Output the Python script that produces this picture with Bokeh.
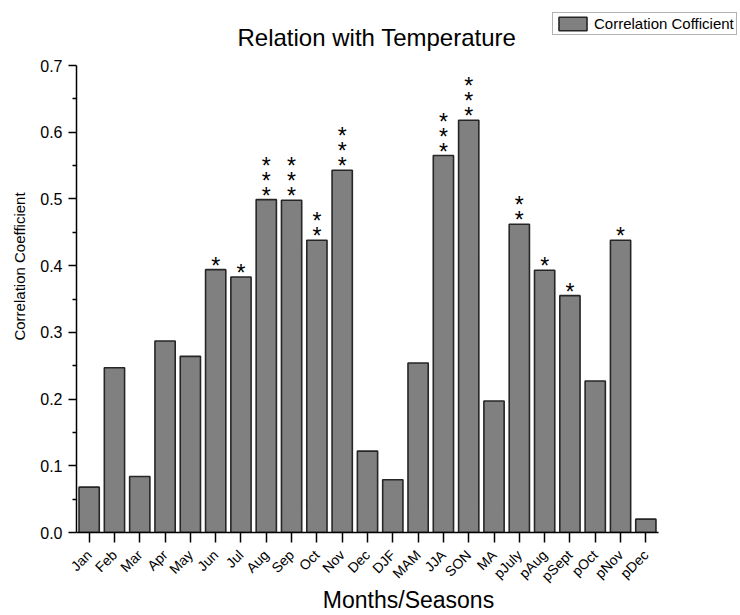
import math
from bokeh.plotting import figure
from bokeh.models import (Range1d, FixedTicker, PrintfTickFormatter, ColumnDataSource,
                          Label)
from bokeh.core.properties import value
from bokeh.embed import file_html
from bokeh.resources import INLINE

# ---- data ----
categories = ["Jan", "Feb", "Mar", "Apr", "May", "Jun", "Jul", "Aug", "Sep", "Oct",
              "Nov", "Dec", "DJF", "MAM", "JJA", "SON", "MA", "pJuly", "pAug",
              "pSept", "pOct", "pNov", "pDec"]
correlation = [0.068, 0.247, 0.084, 0.287, 0.264, 0.394, 0.383, 0.499, 0.498, 0.438,
               0.543, 0.122, 0.079, 0.254, 0.565, 0.618, 0.197, 0.462, 0.393,
               0.355, 0.227, 0.438, 0.020]
stars = [0, 0, 0, 0, 0, 1, 1, 3, 3, 2,
         3, 0, 0, 0, 3, 3, 0, 2, 1,
         1, 0, 1, 0]
y_ticks = [0.0, 0.1, 0.2, 0.3, 0.4, 0.5, 0.6, 0.7]
y_minor_ticks = [0.05, 0.15, 0.25, 0.35, 0.45, 0.55, 0.65]

FONT = "Liberation Sans"

# ---- layout (pixels) ----
W, H = 740, 615
LEFT, BOTTOM = 76, 83            # borders left/below the frame
AXIS_RIGHT_PX = 658              # where the x axis ends
AXIS_TOP_PX = 65                 # where the y axis (0.7) ends
n = len(categories)
positions = list(range(1, n + 1))

frame_w = W - LEFT
frame_h = H - BOTTOM
px_per_cat = (AXIS_RIGHT_PX - LEFT) / n
x_start = 0.5
x_end = x_start + frame_w / px_per_cat
y_max = y_ticks[-1]
px_per_unit = (frame_h - AXIS_TOP_PX) / y_max
y_end = frame_h / px_per_unit

p = figure(width=W, height=H,
           x_range=Range1d(x_start, x_end), y_range=Range1d(0, y_end),
           output_backend="svg", toolbar_location=None,
           min_border_left=LEFT, min_border_right=0,
           min_border_top=0, min_border_bottom=BOTTOM)

src = ColumnDataSource(dict(pos=positions, cat=categories, val=correlation))
bars = p.vbar(x="pos", top="val", width=0.8, source=src,
              fill_color="#808080", line_color="#262626", line_width=1.6,
              legend_label="Correlation Cofficient")

# significance stars, stacked above bars
for k in range(max(stars)):
    xs = [x for x, s in zip(positions, stars) if s > k]
    ys = [v for v, s in zip(correlation, stars) if s > k]
    p.text(x=xs, y=ys, text=["*"] * len(xs),
           text_font=value(FONT), text_font_size="23px",
           text_align="center", text_baseline="alphabetic",
           text_color="black", y_offset=-4 - 15 * k)

# title (drawn inside the enlarged frame)
title = Label(x=161, y=frame_h - 37, x_units="screen", y_units="screen",
              text="Relation with Temperature", text_font=FONT,
              text_font_size="24px", text_color="black",
              text_baseline="alphabetic", text_align="left")
p.add_layout(title)

# axes styling
p.xgrid.grid_line_color = None
p.ygrid.grid_line_color = None
p.outline_line_color = None

xa = p.xaxis[0]
xa.ticker = FixedTicker(ticks=positions, minor_ticks=[])
xa.major_label_overrides = {x: c for x, c in zip(positions, categories)}
xa.bounds = (x_start, x_start + n)
xa.axis_label = "Months/Seasons"
xa.axis_label_text_font = FONT
xa.axis_label_text_font_size = "23px"
xa.axis_label_text_font_style = "normal"
xa.axis_label_text_color = "black"
xa.axis_label_standoff = -6
xa.major_label_orientation = math.pi / 4
xa.major_label_text_font = FONT
xa.major_label_text_font_size = "14px"
xa.major_label_text_color = "black"
xa.major_label_standoff = 10
xa.major_tick_in = 0
xa.major_tick_out = 10
xa.minor_tick_line_color = None
xa.major_tick_line_width = 1.5
xa.axis_line_width = 1.5
xa.axis_line_color = "black"
xa.major_tick_line_color = "black"

ya = p.yaxis[0]
ya.ticker = FixedTicker(ticks=y_ticks, minor_ticks=y_minor_ticks)
ya.formatter = PrintfTickFormatter(format="%.1f")
ya.bounds = (0, y_max)
ya.axis_label = "Correlation Coefficient"
ya.axis_label_text_font = FONT
ya.axis_label_text_font_size = "15px"
ya.axis_label_text_font_style = "normal"
ya.axis_label_text_color = "black"
ya.axis_label_standoff = 9
ya.major_label_text_font = FONT
ya.major_label_text_font_size = "16px"
ya.major_label_text_color = "black"
ya.major_label_standoff = 6
ya.major_tick_in = 0
ya.major_tick_out = 8
ya.minor_tick_in = 0
ya.minor_tick_out = 4
ya.major_tick_line_width = 1.5
ya.minor_tick_line_width = 1.5
ya.axis_line_width = 1.5
ya.axis_line_color = "black"
ya.major_tick_line_color = "black"
ya.minor_tick_line_color = "black"

# legend (top right, inside the enlarged frame)
lg = p.legend[0]
lg.location = (552 - LEFT, frame_h - 35)
lg.margin = 0
lg.padding = 2
lg.spacing = 0
lg.glyph_width = 35
lg.glyph_height = 17
lg.label_height = 17
lg.label_standoff = 4
lg.label_text_font = FONT
lg.label_text_font_size = "15px"
lg.label_text_color = "black"
lg.border_line_color = "#666666"
lg.border_line_width = 1
lg.background_fill_color = "white"
lg.background_fill_alpha = 1.0

open("out.html", "w").write(file_html(p, INLINE))
